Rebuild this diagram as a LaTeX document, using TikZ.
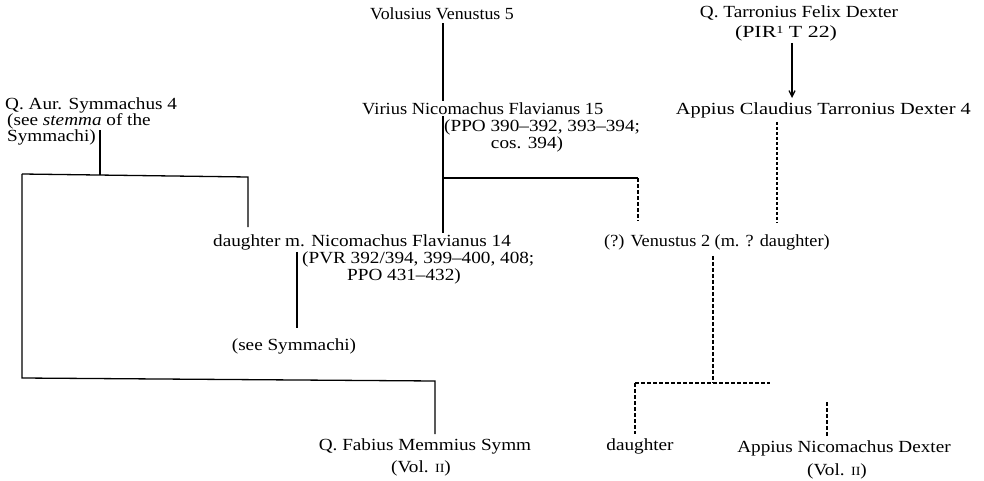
\documentclass[tikz,border=0pt]{standalone}
\usepackage{graphicx}
\usepackage{fontspec}
\setmainfont[FakeStretch=1.13]{Liberation Serif}
\usetikzlibrary{arrows.meta}
\newcommand\hs[2]{\scalebox{#1}[1]{#2}}
\begin{document}
\begin{tikzpicture}[x=1pt,y=-1pt,
  txt/.style={inner sep=0pt, anchor=base, font=\fontsize{17}{18}\selectfont},
  txtl/.style={txt, anchor=base west},
  txtr/.style={txt, anchor=base east},
  solidline/.style={line width=1.3pt},
  dashline/.style={line width=1.2pt, dash pattern=on 4pt off 2pt},
  dotline/.style={line width=1.2pt, dash pattern=on 3pt off 2pt}]
\useasboundingbox[fill=white] (0,0) rectangle (984,481);
% people
\node[txt]  (volusius)  at (442,20)  {\hs{0.93}{Volusius Venustus 5}};
\node[txtl] (virius)    at (362,115) {\hs{0.96}{Virius Nicomachus Flavianus 15}};
\node[txtl] (viriusb)   at (444,132) {(PPO 390–392, 393–394;};
\node[txt]  (viriusc)   at (527,149) {cos. 394)};
\node[txtl] (symm)      at (5,110)   {Q. Aur. Symmachus 4};
\node[txtl] (symmb)     at (7,126)   {(see \textit{stemma} of the};
\node[txtl] (symmc)     at (7,142)   {Symmachi)};
\node[txt]  (felix)     at (799,18)  {Q. Tarronius Felix Dexter};
\node[txt]  (felixb)    at (786,38)  {\hs{1.14}{(PIR{\fontsize{11}{11}\selectfont\raisebox{4pt}{1}} T 22)}};
\node[txtr] (appius)    at (971,115) {\hs{1.06}{Appius Claudius Tarronius Dexter 4}};
\node[txtl] (daughter)  at (213,246) {daughter m. Nicomachus Flavianus 14};
\node[txtl] (daughterb) at (302,263) {(PVR 392/394, 399–400, 408;};
\node[txt]  (daughterc) at (404,280) {PPO 431–432)};
\node[txt]  (seesymm)   at (294,350) {(see Symmachi)};
\node[txtl] (venustus)  at (604,246) {\hs{0.95}{(?) Venustus 2 (m. ? daughter)}};
\node[txt]  (fabius)    at (425,450) {Q. Fabius Memmius Symm};
\node[txt]  (fabiusb)   at (421,472) {(Vol. {\fontsize{12.5}{13}\selectfont II})};
\node[txt]  (daughter2) at (640,450) {daughter};
\node[txt]  (nicdex)    at (844,452) {Appius Nicomachus Dexter};
\node[txt]  (nicdexb)   at (837,475) {(Vol. {\fontsize{12.5}{13}\selectfont II})};
% junctions
\coordinate (jv)  at (443,178);
\coordinate (jvr) at (638,178);
\coordinate (jvd) at (638,221);
\coordinate (s1)  at (100,175);
\coordinate (sL)  at (22,174);
\coordinate (sR)  at (248,177);
\coordinate (sRd) at (248,227);
\coordinate (sB)  at (22,378);
\coordinate (sB2) at (435,381);
\coordinate (ax)  at (792,0);
\coordinate (cx)  at (777,0);
\coordinate (dx)  at (297,0);
\coordinate (jd)  at (713,383);
\coordinate (jdl) at (635,383);
\coordinate (jdr) at (770,383);
\coordinate (nd)  at (827,402);
% connectors
\draw[solidline, shorten <=3pt, shorten >=2pt] (volusius.south -| jv) -- (virius.north -| jv);
\draw[solidline, shorten <=1pt, shorten >=1pt] (virius.south -| jv) -- (daughter.north -| jv);
\draw[solidline] (jv) -- (jvr);
\draw[dashline] (jvr) -- (jvd);
\draw[solidline] (symmb.south -| s1) -- (s1);
\draw[solidline] (sL) -- (sR) -- (sRd);
\draw[solidline] (sL) -- (sB) -- (sB2) -- ([yshift=4pt]fabius.north -| sB2);
\draw[solidline, -{Straight Barb[length=6pt,width=6pt]}, shorten <=1pt] (felixb.south -| ax) -- ([yshift=5pt]appius.north -| ax);
\draw[dotline, shorten <=3pt, shorten >=12pt] (appius.south -| cx) -- (venustus.north -| cx);
\draw[solidline, shorten <=2pt, shorten >=10pt] (daughter.south -| dx) -- (seesymm.north -| dx);
\draw[dashline, shorten <=6pt] (venustus.south -| jd) -- (jd);
\draw[dashline] (jdl) -- (jdr);
\draw[dashline, shorten >=4pt] (jdl) -- (daughter2.north -| jdl);
\draw[dashline, shorten >=4pt] (nd) -- (nicdex.north -| nd);
\end{tikzpicture}
\end{document}
